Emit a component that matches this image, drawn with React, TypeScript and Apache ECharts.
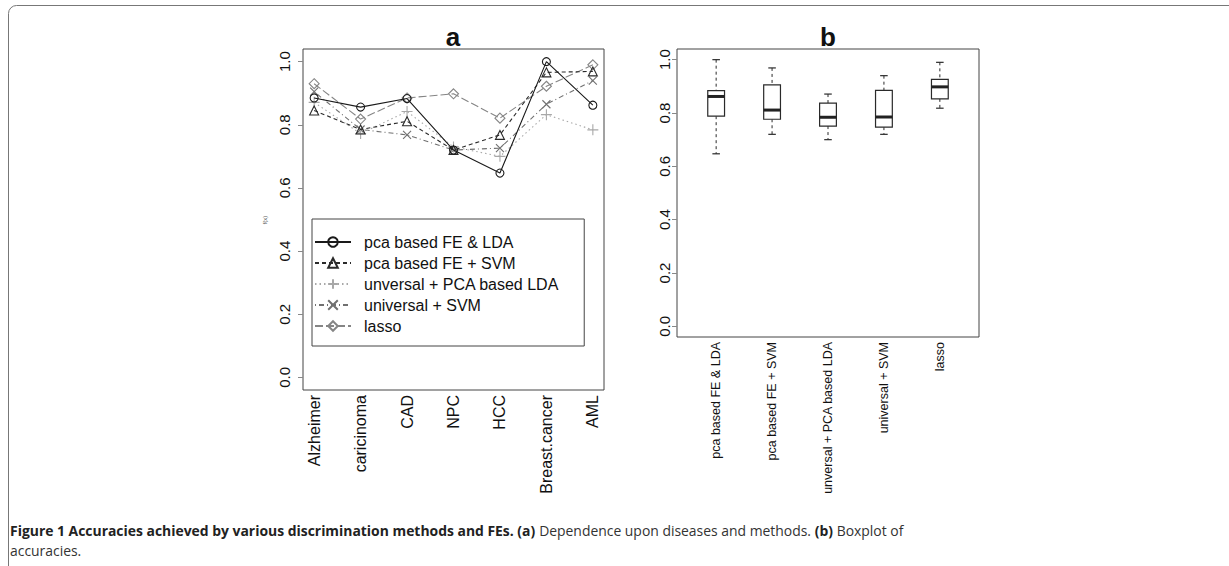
import React, { useEffect, useRef } from "react";
import * as echarts from "echarts";

// ---------- data ----------
const diseases = ["Alzheimer", "caricinoma", "CAD", "NPC", "HCC", "Breast.cancer", "AML"];
const methodNames = [
  "pca based FE & LDA",
  "pca based FE + SVM",
  "unversal + PCA based LDA",
  "universal + SVM",
  "lasso",
];
const pcaLDA = [0.885, 0.856, 0.883, 0.72, 0.647, 1.0, 0.862];
const pcaSVM = [0.845, 0.785, 0.811, 0.72, 0.768, 0.966, 0.969];
const univLDA = [0.871, 0.772, 0.842, 0.73, 0.7, 0.832, 0.784];
const univSVM = [0.905, 0.785, 0.768, 0.72, 0.726, 0.865, 0.94];
const lasso = [0.93, 0.818, 0.885, 0.898, 0.821, 0.922, 0.99];
const boxLabels = [
  "pca based FE & LDA",
  "pca based FE + SVM",
  "unversal + PCA based LDA",
  "universal + SVM",
  "lasso",
];
const yTicks = [0, 0.2, 0.4, 0.6, 0.8, 1.0];

// Tukey five-number summary (as R's boxplot uses)
function fivenum(a: number[]) {
  const x = [...a].sort((p, q) => p - q);
  const n = x.length;
  const n4 = Math.floor((n + 3) / 2) / 2;
  const d = [1, n4, (n + 1) / 2, n + 1 - n4, n];
  return d.map((v) => 0.5 * (x[Math.floor(v) - 1] + x[Math.ceil(v) - 1]));
}

const FONT = "'Liberation Sans', Arial, Helvetica, sans-serif";
const CAP_FONT = "'Open Sans', 'Noto Sans', sans-serif";

export default function App() {
  const ref = useRef<HTMLDivElement>(null);
  useEffect(() => {
    if (!ref.current) return;
    const chart = echarts.init(ref.current, null, { renderer: "svg" });
    const allSeries = [pcaLDA, pcaSVM, univLDA, univSVM, lasso];
    const colors = ["#1a1a1a", "#2a2a2a", "#a8a8a8", "#707070", "#858585"];
    const dashes: any[] = ["solid", [4, 3], [1.5, 3], [1, 3, 5, 3], [8, 3]];
    const symbols = [
      "circle",
      "triangle",
      "path://M5,0L5,10M0,5L10,5",
      "path://M0,0L10,10M10,0L0,10",
      "diamond",
    ];
    const sizes = [8, 9, 11, 8, 10];

    const lineSeries = allSeries.map((vals, k) => ({
      name: methodNames[k],
      type: "line",
      xAxisIndex: 0,
      yAxisIndex: 0,
      data: vals.map((v, i) => [i + 1, v]),
      symbol: symbols[k],
      symbolSize: sizes[k],
      showSymbol: true,
      lineStyle: { color: colors[k], width: 1.1, type: dashes[k] },
      itemStyle: { color: "rgba(0,0,0,0)", borderColor: colors[k], borderWidth: 1.1 },
      z: 10 - k,
    }));

    const boxData = [pcaLDA, pcaSVM, univLDA, univSVM, lasso].map((vals, i) => [
      i + 1,
      ...fivenum(vals),
    ]);

    const boxSeries = {
      name: "accuracies",
      type: "custom",
      xAxisIndex: 1,
      yAxisIndex: 1,
      data: boxData,
      encode: { x: 0, y: [1, 2, 3, 4, 5] },
      renderItem: (params: any, api: any) => {
        const xv = api.value(0);
        const pMin = api.coord([xv, api.value(1)]);
        const pQ1 = api.coord([xv, api.value(2)]);
        const pMed = api.coord([xv, api.value(3)]);
        const pQ3 = api.coord([xv, api.value(4)]);
        const pMax = api.coord([xv, api.value(5)]);
        const unit = api.size([1, 0])[0];
        const bw = unit * 0.3;
        const cw = bw * 0.45;
        const x = pMin[0];
        const stroke = "#2a2a2a";
        return {
          type: "group",
          children: [
            { type: "line", shape: { x1: x, y1: pMax[1], x2: x, y2: pQ3[1] }, style: { stroke, lineWidth: 1, lineDash: [3, 3] } },
            { type: "line", shape: { x1: x, y1: pQ1[1], x2: x, y2: pMin[1] }, style: { stroke, lineWidth: 1, lineDash: [3, 3] } },
            { type: "line", shape: { x1: x - cw / 2, y1: pMax[1], x2: x + cw / 2, y2: pMax[1] }, style: { stroke, lineWidth: 1.2 } },
            { type: "line", shape: { x1: x - cw / 2, y1: pMin[1], x2: x + cw / 2, y2: pMin[1] }, style: { stroke, lineWidth: 1.2 } },
            { type: "rect", shape: { x: x - bw / 2, y: pQ3[1], width: bw, height: pQ1[1] - pQ3[1] }, style: { fill: "#fff", stroke, lineWidth: 1.2 } },
            { type: "line", shape: { x1: x - bw / 2, y1: pMed[1], x2: x + bw / 2, y2: pMed[1] }, style: { stroke: "#222", lineWidth: 3 } },
          ],
        };
      },
    };

    const yAxisCommon = (margin: number, fs: number) => ({
      type: "value",
      min: -0.04,
      max: 1.04,
      splitLine: { show: false },
      axisLine: { show: false },
      axisTick: { show: true, length: 5, customValues: yTicks, lineStyle: { color: "#888" } },
      axisLabel: {
        customValues: yTicks,
        formatter: (v: number) => v.toFixed(1),
        rotate: 90,
        margin,
        fontSize: fs,
        fontFamily: FONT,
        color: "#111",
      },
    });

    chart.setOption({
      animation: false,
      backgroundColor: "#fff",
      grid: [
        { left: 303, top: 49, width: 301, height: 341, show: true, borderColor: "#444", borderWidth: 1, backgroundColor: "transparent" },
        { left: 677, top: 49, width: 302, height: 288, show: true, borderColor: "#444", borderWidth: 1, backgroundColor: "transparent" },
      ],
      xAxis: [
        {
          type: "value",
          gridIndex: 0,
          min: 0.76,
          max: 7.24,
          splitLine: { show: false },
          axisLine: { show: false },
          axisTick: { show: false },
          axisLabel: {
            customValues: [1, 2, 3, 4, 5, 6, 7],
            formatter: (v: number) => diseases[Math.round(v) - 1],
            rotate: 90,
            margin: 5,
            fontSize: 16,
            fontFamily: FONT,
            color: "#111",
          },
        },
        {
          type: "value",
          gridIndex: 1,
          min: 0.3,
          max: 5.7,
          splitLine: { show: false },
          axisLine: { show: false },
          axisTick: { show: false },
          axisLabel: {
            customValues: [1, 2, 3, 4, 5],
            formatter: (v: number) => boxLabels[Math.round(v) - 1],
            rotate: 90,
            margin: 5,
            fontSize: 12.5,
            fontFamily: FONT,
            color: "#111",
          },
        },
      ],
      yAxis: [
        { gridIndex: 0, ...yAxisCommon(11, 15) },
        { gridIndex: 1, ...yAxisCommon(5, 15) },
      ],
      legend: {
        data: methodNames,
        orient: "vertical",
        left: 312,
        top: 219,
        padding: [15, 25, 12, 2],
        itemWidth: 36,
        itemHeight: 12,
        itemGap: 5,
        borderColor: "#444",
        borderWidth: 1,
        selectedMode: false,
        textStyle: { fontSize: 16, fontFamily: FONT, color: "#111", padding: [0, 0, 0, 8] },
      },
      graphic: [
        {
          type: "rect",
          shape: { x: 8.5, y: 5.5, width: 1400, height: 800, r: [8, 0, 0, 0] },
          style: { fill: "none", stroke: "#777", lineWidth: 1 },
          silent: true,
        },
        {
          type: "text",
          x: 453,
          y: 37,
          style: { text: "a", fontSize: 26, fontWeight: "bold", fontFamily: FONT, fill: "#111", textAlign: "center", textVerticalAlign: "middle" },
        },
        {
          type: "text",
          x: 828,
          y: 37,
          style: { text: "b", fontSize: 26, fontWeight: "bold", fontFamily: FONT, fill: "#111", textAlign: "center", textVerticalAlign: "middle" },
        },
        {
          type: "text",
          x: 265,
          y: 220,
          rotation: Math.PI / 2,
          style: { text: "f(x)", fontSize: 6, fontFamily: FONT, fill: "#555", textAlign: "center", textVerticalAlign: "middle" },
        },
        {
          type: "text",
          x: 10,
          y: 520,
          scaleX: 0.96,
          style: {
            text:
              "{b|Figure 1 Accuracies achieved by various discrimination methods and FEs. (a)}{r| Dependence upon diseases and methods. }{b|(b)}{r| Boxplot of}\n{r|accuracies.}",
            fontFamily: CAP_FONT,
            fontSize: 14.5,
            lineHeight: 20,
            fill: "#222",
            rich: {
              b: { fontWeight: "bold", fontSize: 14.5, fontFamily: CAP_FONT, fill: "#222", lineHeight: 20 },
              r: { fontWeight: "normal", fontSize: 14.5, fontFamily: CAP_FONT, fill: "#333", lineHeight: 20 },
            },
          },
        },
      ],
      series: [...lineSeries, boxSeries],
    });
    return () => chart.dispose();
  }, []);
  return (
    <div
      ref={ref}
      style={{ position: "absolute", left: 0, top: 0, width: 1229, height: 566 }}
    />
  );
}
